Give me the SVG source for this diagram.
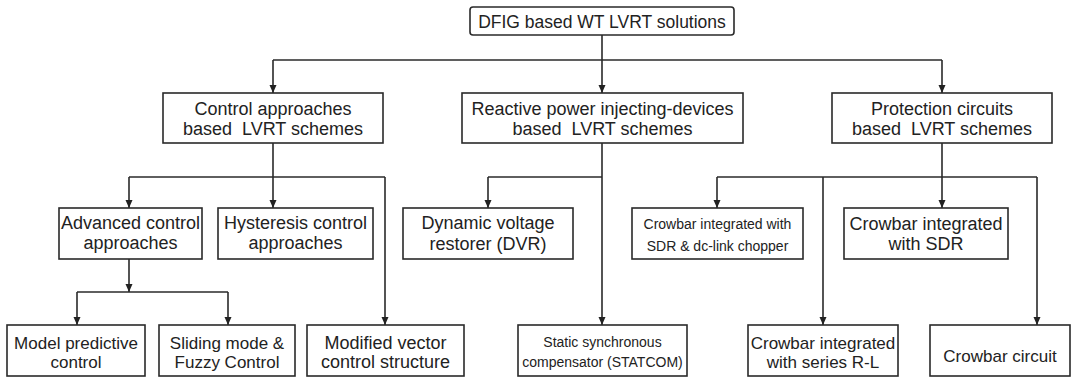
<svg xmlns="http://www.w3.org/2000/svg" width="1073" height="379" viewBox="0 0 1073 379">
<defs>
<marker id="arr" markerWidth="8" markerHeight="8" refX="8" refY="3.5" orient="auto" markerUnits="userSpaceOnUse">
<path d="M0,0 L8,3.5 L0,7 z" fill="#222"/>
</marker>
<style>
.box{fill:#fff;stroke:#2a2a2a;stroke-width:1.6}
.t{font-family:"Liberation Sans",Arial,sans-serif;font-size:18px;fill:#222;text-anchor:middle;white-space:pre}
.m{font-family:"Liberation Sans",Arial,sans-serif;font-size:17px;fill:#222;text-anchor:middle}
.s{font-family:"Liberation Sans",Arial,sans-serif;font-size:14px;fill:#222;text-anchor:middle}
.c{fill:none;stroke:#2a2a2a;stroke-width:1.6}
.a{fill:none;stroke:#2a2a2a;stroke-width:1.6;marker-end:url(#arr)}
</style>
</defs>
<rect width="1073" height="379" fill="#fff"/>
<g id="connectors">
<line class="a" x1="602" y1="35" x2="602" y2="93"/>
<polyline class="c" points="273,60 942,60"/>
<line class="a" x1="273" y1="60" x2="273" y2="93"/>
<line class="a" x1="942" y1="60" x2="942" y2="93"/>
<line class="a" x1="273" y1="143" x2="273" y2="208"/>
<polyline class="c" points="129,177 385,177"/>
<line class="a" x1="129" y1="177" x2="129" y2="208"/>
<line class="a" x1="385" y1="177" x2="385" y2="325"/>
<line class="a" x1="129" y1="259" x2="129" y2="292"/>
<polyline class="c" points="77,292 228,292"/>
<line class="a" x1="77" y1="292" x2="77" y2="325"/>
<line class="a" x1="228" y1="292" x2="228" y2="325"/>
<line class="a" x1="602" y1="143" x2="602" y2="325"/>
<polyline class="c" points="488,177 602,177"/>
<line class="a" x1="488" y1="177" x2="488" y2="208"/>
<line class="a" x1="942" y1="143" x2="942" y2="208"/>
<polyline class="c" points="717,177 1037,177"/>
<line class="a" x1="717" y1="177" x2="717" y2="208"/>
<line class="a" x1="823" y1="177" x2="823" y2="325"/>
<line class="a" x1="1037" y1="177" x2="1037" y2="325"/>
</g>
<g id="root"><rect class="box" x="470" y="7" width="264" height="28" rx="3"/><text class="t" x="602" y="28" style="font-size:17.5px">DFIG based WT LVRT solutions</text></g>
<g id="control"><rect class="box" x="163" y="93" width="220" height="50"/><text class="t" x="273" y="115">Control approaches</text><text class="t" x="273" y="135">based  LVRT schemes</text></g>
<g id="reactive"><rect class="box" x="462" y="93" width="281" height="50"/><text class="t" x="602.5" y="115">Reactive power injecting-devices</text><text class="t" x="602.5" y="135">based  LVRT schemes</text></g>
<g id="protection"><rect class="box" x="832" y="93" width="220" height="50"/><text class="t" x="942" y="115">Protection circuits</text><text class="t" x="942" y="135">based  LVRT schemes</text></g>
<g id="advanced"><rect class="box" x="59" y="208" width="143" height="51"/><text class="t" x="130.5" y="229">Advanced control</text><text class="t" x="130.5" y="249">approaches</text></g>
<g id="hysteresis"><rect class="box" x="218" y="208" width="155" height="51"/><text class="t" x="295.5" y="229">Hysteresis control</text><text class="t" x="295.5" y="249">approaches</text></g>
<g id="dvr"><rect class="box" x="403" y="208" width="170" height="51"/><text class="t" x="488" y="229">Dynamic voltage</text><text class="t" x="488" y="250">restorer (DVR)</text></g>
<g id="crowbar-dclink"><rect class="box" x="632" y="208" width="171" height="51"/><text class="s" x="717.5" y="229">Crowbar integrated with</text><text class="s" x="717.5" y="251">SDR &amp; dc-link chopper</text></g>
<g id="crowbar-sdr"><rect class="box" x="844" y="208" width="164" height="51"/><text class="t" x="926" y="230">Crowbar integrated</text><text class="t" x="926" y="250">with SDR</text></g>
<g id="mpc"><rect class="box" x="7" y="325" width="138" height="51"/><text class="m" x="76" y="349">Model predictive</text><text class="m" x="76" y="368">control</text></g>
<g id="sliding"><rect class="box" x="159" y="325" width="136" height="51"/><text class="m" x="227" y="349">Sliding mode &amp;</text><text class="m" x="227" y="368">Fuzzy Control</text></g>
<g id="modified"><rect class="box" x="307" y="325" width="157" height="51"/><text class="t" x="385.5" y="349">Modified vector</text><text class="t" x="385.5" y="368">control structure</text></g>
<g id="statcom"><rect class="box" x="518" y="325" width="169" height="51"/><text class="s" x="602.5" y="347">Static synchronous</text><text class="s" x="602.5" y="367">compensator (STATCOM)</text></g>
<g id="crowbar-rl"><rect class="box" x="748" y="325" width="150" height="51"/><text class="m" x="823" y="349">Crowbar integrated</text><text class="m" x="823" y="368">with series R-L</text></g>
<g id="crowbar"><rect class="box" x="930" y="325" width="140" height="51"/><text class="m" x="1000" y="362">Crowbar circuit</text></g>
</svg>
